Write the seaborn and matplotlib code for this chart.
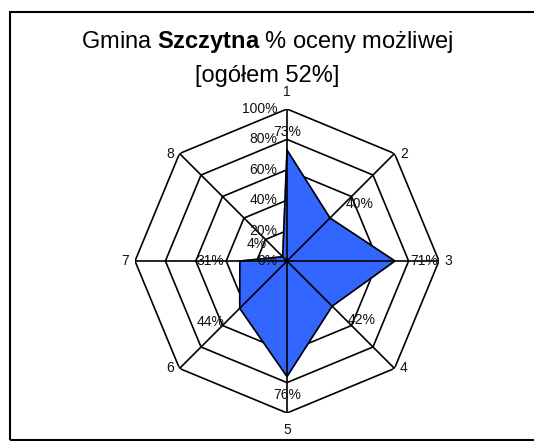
import numpy as np
import matplotlib
matplotlib.use("Agg")
import matplotlib.pyplot as plt
import seaborn as sns
from matplotlib.patches import Rectangle

# Radar data: share of the maximum possible score per criterion
categories = ["1", "2", "3", "4", "5", "6", "7", "8"]
values = [73, 40, 71, 42, 76, 44, 31, 4]
radial_ticks = [0, 20, 40, 60, 80, 100]
title_name = "Szczytna"
overall = 52

sns.set_theme(style="white")
plt.rcParams["font.family"] = ["Liberation Sans", "DejaVu Sans"]
plt.rcParams["mathtext.fontset"] = "custom"
plt.rcParams["mathtext.rm"] = "Liberation Sans"
plt.rcParams["mathtext.bf"] = "Liberation Sans:bold"

W, H, DPI = 534, 441, 100
fig = plt.figure(figsize=(W / DPI, H / DPI), dpi=DPI)

# Polar axes centred on the octagon, r=1 reaching the axes edge
cx, cy, R = 287, 261, 152
ax = fig.add_axes([(cx - R) / W, (H - cy - R) / H, 2 * R / W, 2 * R / H],
                  projection="polar")
ax.set_theta_offset(np.pi / 2)
ax.set_theta_direction(-1)
ax.set_ylim(0, 1)
ax.grid(False)
ax.spines["polar"].set_visible(False)
ax.set_xticks([])
ax.set_yticks([])
ax.patch.set_alpha(0)

n = len(categories)
theta = np.arange(n) * 2 * np.pi / n
theta_closed = np.append(theta, theta[0])

# Octagonal grid rings and spokes
for t in radial_ticks[1:]:
    ax.plot(theta_closed, np.full(n + 1, t / 100), color="black", lw=1.2,
            zorder=1)
for th in theta:
    ax.plot([th, th], [0, 1], color="black", lw=1.2, zorder=3)

# Filled series
r = np.array(values) / 100
r_closed = np.append(r, r[0])
ax.fill(theta_closed, r_closed, color="#3366FF", zorder=2)
ax.plot(theta_closed, r_closed, color="black", lw=1.2, zorder=4)

# Value labels
for th, v in zip(theta, values):
    s, c = np.sin(th), np.cos(th)
    dx = 21 * np.sign(round(s, 3))
    dy = 10 * np.sign(round(c, 3)) if abs(s) < 0.9 else 0
    if abs(s) < 0.1:
        dy = 13 * np.sign(c)
    if v < 10:
        dx, dy = dx * 0.9, dy * 0.9
    ax.annotate(f"{v}%", xy=(th, v / 100), xytext=(dx, dy),
                textcoords="offset points", ha="center", va="center",
                fontsize=10, color="#111111", zorder=6)

# Radial tick labels along the first spoke
for t in radial_ticks:
    ax.annotate(f"{t}%", xy=(0, t / 100), xytext=(-7, 0),
                textcoords="offset points", ha="right", va="center",
                fontsize=10, color="#111111", zorder=6)

# Category labels outside the outer ring
for th, lab in zip(theta, categories):
    s, c = np.sin(th), np.cos(th)
    if abs(s) < 0.1:
        ax.annotate(lab, xy=(th, 1), xytext=(0, 12 * np.sign(c)),
                    textcoords="offset points", ha="center", va="center",
                    fontsize=10, color="#111111")
    else:
        ax.annotate(lab, xy=(th, 1), xytext=(4 * np.sign(s), 0),
                    textcoords="offset points",
                    ha="left" if s > 0 else "right", va="center",
                    fontsize=10, color="#111111")

# Title with bold municipality name
fig.text(0.5, 1 - 42 / H, f"Gmina $\\bf{{{title_name}}}$ % oceny możliwej",
         ha="center", va="center", fontsize=17, color="black")
fig.text(0.5, 1 - 76 / H, f"[ogółem {overall}%]",
         ha="center", va="center", fontsize=17, color="black")

# Chart-area frame
fig.patches.append(Rectangle((10 / W, 1 / H), 1.2, (H - 12 - 1) / H,
                             transform=fig.transFigure, fill=False,
                             edgecolor="black", lw=1.5))

fig.savefig("out.png", dpi=DPI)
